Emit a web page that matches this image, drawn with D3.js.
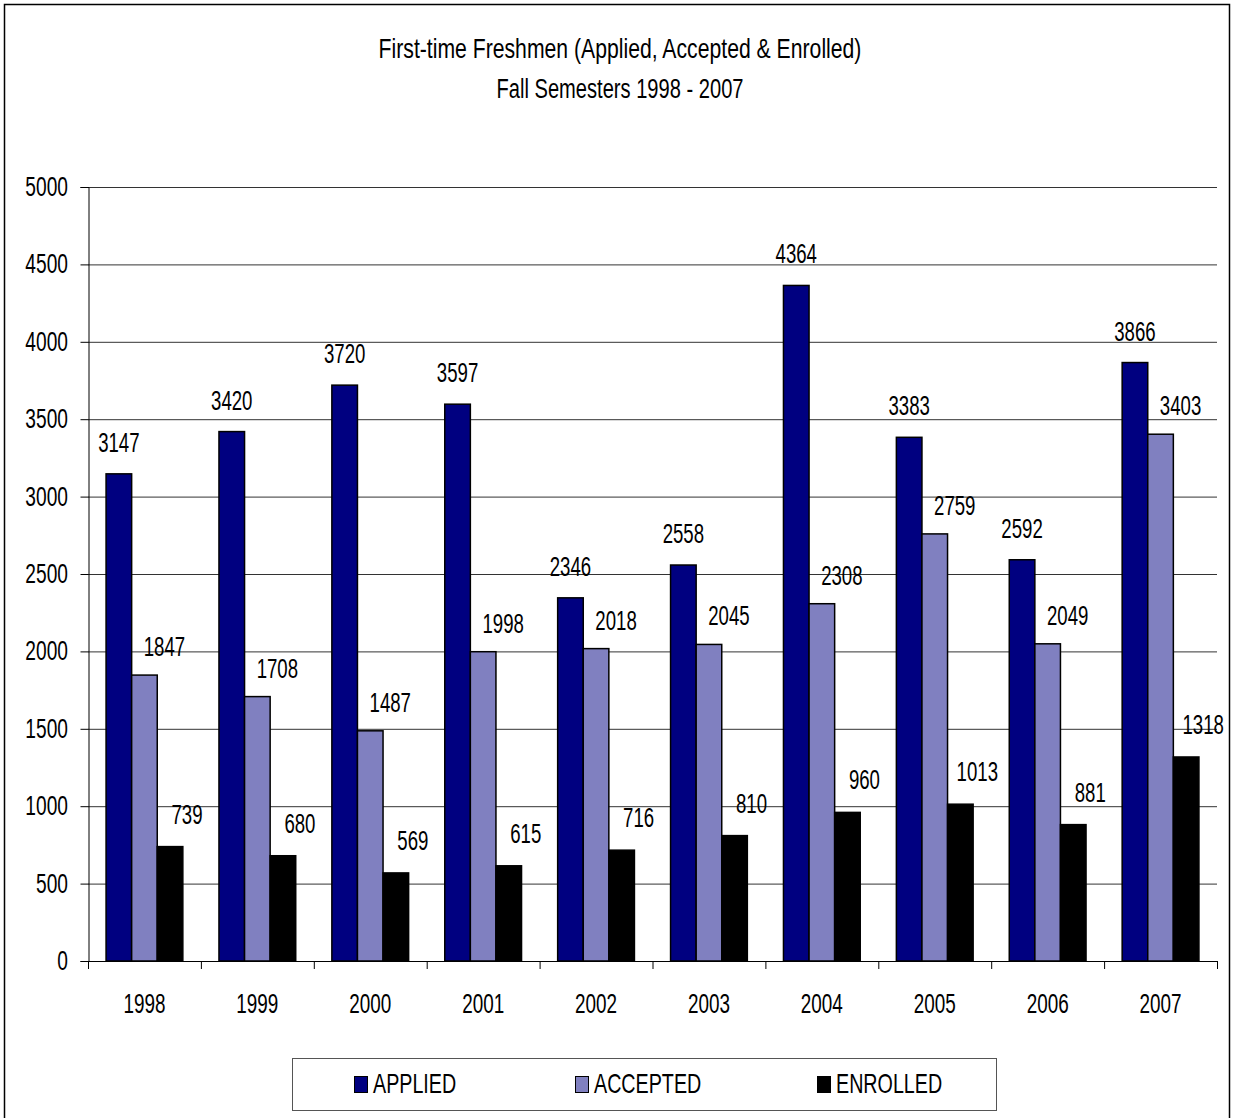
<!DOCTYPE html>
<html><head><meta charset="utf-8">
<script src="https://cdn.jsdelivr.net/npm/d3@7"></script>
<style>
body{margin:0;background:#fff;}
text{font-family:"Liberation Sans",Arial,sans-serif;fill:#000;}
</style></head>
<body><svg id="c" width="1233" height="1118"></svg>
<script>
const years = ["1998","1999","2000","2001","2002","2003","2004","2005","2006","2007"];
const applied = [3147,3420,3720,3597,2346,2558,4364,3383,2592,3866];
const accepted = [1847,1708,1487,1998,2018,2045,2308,2759,2049,3403];
const enrolled = [739,680,569,615,716,810,960,1013,881,1318];
const seriesNames = ["APPLIED","ACCEPTED","ENROLLED"];
const seriesColors = ["#000080","#8080C0","#000000"];
const yTicks = [0,500,1000,1500,2000,2500,3000,3500,4000,4500,5000];
const titleLines = ["First-time Freshmen (Applied, Accepted & Enrolled)","Fall Semesters 1998 - 2007"];

const FS = 27, SX = 0.69;
const svg = d3.select("#c");
function ctext(parent, x, y, str, anchor, sx){
  return parent.append("text")
    .attr("transform",`translate(${x},${y}) scale(${sx||SX},1)`)
    .attr("text-anchor",anchor||"middle").attr("font-size",FS).text(str);
}

svg.append("rect").attr("x",4.5).attr("y",4.5).attr("width",1225).attr("height",1120)
  .attr("fill","none").attr("stroke","#000").attr("stroke-width",1.5);

const titleSX = [0.785, 0.745];
titleLines.forEach((t,i)=>ctext(svg,620,58+i*40,t,"middle",titleSX[i]));

const L=88,R=1217,T=187,B=961;
const x = d3.scaleBand().domain(years).range([L,R]).paddingInner(0.32).paddingOuter(0.16);
const xs = d3.scaleBand().domain(seriesNames).range([0,x.bandwidth()]);
const y = d3.scaleLinear().domain([0,5000]).range([B,T]);

// gridlines
svg.append("g").selectAll("line").data(yTicks.slice(1)).join("line")
  .attr("x1",L).attr("x2",R).attr("y1",d=>y(d)+0.5).attr("y2",d=>y(d)+0.5)
  .attr("stroke","#333").attr("stroke-width",1);

// y axis
const ya = svg.append("g").attr("transform",`translate(${L+0.5},0)`)
  .call(d3.axisLeft(y).tickValues(yTicks).tickSize(8).tickFormat(""));
ya.select(".domain").attr("stroke","#000");
ya.selectAll("line").attr("stroke","#000");
const yl = svg.append("g");
yTicks.forEach(v=>ctext(yl,68,y(v)+9,d3.format("d")(v),"end",0.71));

// bars
const data = years.map((yr,i)=>({yr,vals:[applied[i],accepted[i],enrolled[i]]}));
const offs = [{dx:0,dy:-22},{dx:20,dy:-19},{dx:17,dy:-23}];
const g = svg.append("g");
data.forEach(d=>{
  d.vals.forEach((v,j)=>{
    const bx = x(d.yr)+xs(seriesNames[j]);
    g.append("rect").attr("x",bx).attr("y",y(v)).attr("width",xs.bandwidth())
      .attr("height",B-y(v)).attr("fill",seriesColors[j]).attr("stroke","#000").attr("stroke-width",1.5);
  });
});
data.forEach(d=>{
  d.vals.forEach((v,j)=>{
    const bx = x(d.yr)+xs(seriesNames[j])+xs.bandwidth()/2;
    ctext(g,bx+offs[j].dx,y(v)+offs[j].dy,String(v),"middle");
  });
});

// x axis
svg.append("line").attr("x1",L).attr("x2",R).attr("y1",B+0.5).attr("y2",B+0.5).attr("stroke","#000");
const step = (R-L)/years.length;
svg.append("g").selectAll("line").data(d3.range(years.length+1)).join("line")
  .attr("x1",i=>L+i*step+0.5).attr("x2",i=>L+i*step+0.5).attr("y1",B).attr("y2",B+8).attr("stroke","#000");
const xl = svg.append("g");
years.forEach(d=>ctext(xl,x(d)+x.bandwidth()/2,1013,d,"middle",0.7));

// legend
svg.append("rect").attr("x",292.5).attr("y",1058.5).attr("width",704).attr("height",52)
  .attr("fill","#fff").attr("stroke","#555").attr("stroke-width",1);
const lx = [354,575,817];
seriesNames.forEach((n,j)=>{
  svg.append("rect").attr("x",lx[j]+0.5).attr("y",1076.5).attr("width",13).attr("height",16)
    .attr("fill",seriesColors[j]).attr("stroke","#000").attr("stroke-width",1);
  ctext(svg,lx[j]+19,1093,n,"start",0.73);
});
</script></body></html>
